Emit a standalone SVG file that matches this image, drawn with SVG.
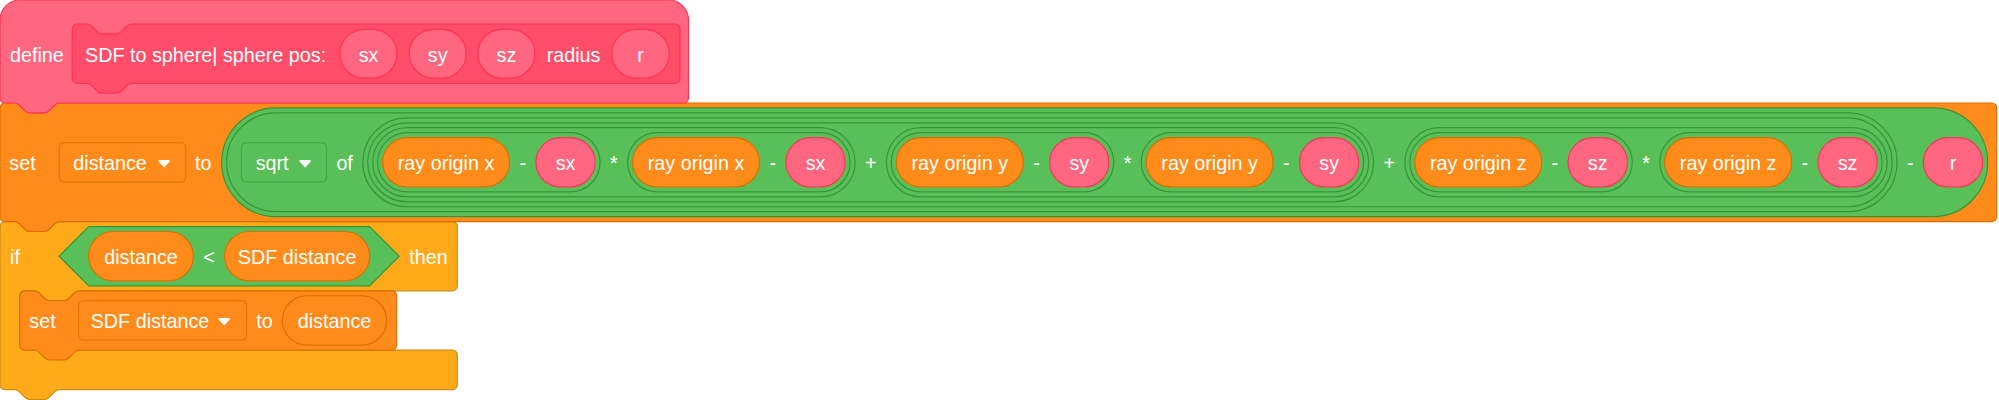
<svg xmlns="http://www.w3.org/2000/svg" width="1999" height="400" viewBox="0 0 1999 400">
<style>
.t{font-family:"Liberation Sans",Arial,Helvetica,sans-serif;font-size:19.76px;fill:#fff}
.m{text-anchor:middle}
.def{fill:#FF6680;stroke:#FF3355;stroke-width:1.2}
.proto{fill:#FF4D6A;stroke:#FF3355;stroke-width:1.2}
.arg{fill:#FF6680;stroke:#FF3355;stroke-width:1.2}
.var{fill:#FF8C1A;stroke:#DB6E00;stroke-width:1.2}
.vdd{fill:#FF8C1A;stroke:#E0780A;stroke-width:1.2}
.ctl{fill:#FFAB19;stroke:#CF8B17;stroke-width:1.2}
.op{fill:#59C059;stroke:#389438;stroke-width:1.2}
.odd{fill:#59C059;stroke:#42A842;stroke-width:1.2}
</style>
<defs>
<path id="arr" d="M0.9,0.9 H10.8 L5.85,6.6 Z" fill="#fff" stroke="#fff" stroke-width="1.6" stroke-linejoin="round"/>
</defs>
<g id="connectors"/>

<g id="if-block">
<path class="ctl" d="M0,226.54 A4.94,4.94 0 0 1 4.94,221.6 H14.82 c 2.47,0 3.705,1.235 4.94,2.47 l 4.94,4.94 c 1.235,1.235 2.47,2.47 4.94,2.47 h 14.82 c 2.47,0 3.705,-1.235 4.94,-2.47 l 4.94,-4.94 c 1.235,-1.235 2.47,-2.47 4.94,-2.47 H452.36 A4.94,4.94 0 0 1 457.3,226.54 V285.86 A4.94,4.94 0 0 1 452.36,290.8 H79.04 c -2.47,0 -3.705,1.235 -4.94,2.47 l -4.94,4.94 c -1.235,1.235 -2.47,2.47 -4.94,2.47 h -14.82 c -2.47,0 -3.705,-1.235 -4.94,-2.47 l -4.94,-4.94 c -1.235,-1.235 -2.47,-2.47 -4.94,-2.47 H24.7 A4.94,4.94 0 0 0 19.76,295.74 V345.16 A4.94,4.94 0 0 0 24.7,350.1 H452.36 A4.94,4.94 0 0 1 457.3,355.04 V384.66 A4.94,4.94 0 0 1 452.36,389.6 H59.28 c -2.47,0 -3.705,1.235 -4.94,2.47 l -4.94,4.94 c -1.235,1.235 -2.47,2.47 -4.94,2.47 h -14.82 c -2.47,0 -3.705,-1.235 -4.94,-2.47 l -4.94,-4.94 c -1.235,-1.235 -2.47,-2.47 -4.94,-2.47 H4.94 A4.94,4.94 0 0 1 0,384.66 Z"/>
<text class="t" x="10" y="264.2">if</text>
<path class="op" d="M59,256.2 L88.64,226.56 H369.56 L399.2,256.2 L369.56,285.84 H88.64 Z"/>
<rect class="var" x="88.64" y="231.5" width="104.7" height="49.4" rx="24.7"/>
<text class="t m" x="141" y="264.2">distance</text>
<text class="t m" x="208.9" y="264.2">&lt;</text>
<rect class="var" x="224.6" y="231.5" width="145" height="49.4" rx="24.7"/>
<text class="t m" x="297.1" y="264.2">SDF distance</text>
<text class="t" x="409.3" y="264.2">then</text>
</g>

<g id="set-sdf-distance">
<path class="var" d="M19.76,295.74 A4.94,4.94 0 0 1 24.7,290.8 H34.58 c 2.47,0 3.705,1.235 4.94,2.47 l 4.94,4.94 c 1.235,1.235 2.47,2.47 4.94,2.47 h 14.82 c 2.47,0 3.705,-1.235 4.94,-2.47 l 4.94,-4.94 c 1.235,-1.235 2.47,-2.47 4.94,-2.47 H391.76 A4.94,4.94 0 0 1 396.7,295.74 V345.16 A4.94,4.94 0 0 1 391.76,350.1 H79.04 c -2.47,0 -3.705,1.235 -4.94,2.47 l -4.94,4.94 c -1.235,1.235 -2.47,2.47 -4.94,2.47 h -14.82 c -2.47,0 -3.705,-1.235 -4.94,-2.47 l -4.94,-4.94 c -1.235,-1.235 -2.47,-2.47 -4.94,-2.47 H24.7 A4.94,4.94 0 0 1 19.76,345.16 Z"/>
<text class="t" x="29.3" y="328.4">set</text>
<rect class="vdd" x="78.7" y="300.7" width="168" height="39.5" rx="4.94"/>
<text class="t" x="90.7" y="328.4">SDF distance</text>
<use href="#arr" x="218.3" y="318"/>
<text class="t" x="256.3" y="328.4">to</text>
<rect class="var" x="282.3" y="295.74" width="104.4" height="49.4" rx="24.7"/>
<text class="t m" x="334.5" y="328.4">distance</text>
</g>

<g id="set-distance">
<path class="var" d="M0,107.94 A4.94,4.94 0 0 1 4.94,103 H14.82 c 2.47,0 3.705,1.235 4.94,2.47 l 4.94,4.94 c 1.235,1.235 2.47,2.47 4.94,2.47 h 14.82 c 2.47,0 3.705,-1.235 4.94,-2.47 l 4.94,-4.94 c 1.235,-1.235 2.47,-2.47 4.94,-2.47 H1991.76 A4.94,4.94 0 0 1 1996.7,107.94 V216.66 A4.94,4.94 0 0 1 1991.76,221.6 H59.28 c -2.47,0 -3.705,1.235 -4.94,2.47 l -4.94,4.94 c -1.235,1.235 -2.47,2.47 -4.94,2.47 h -14.82 c -2.47,0 -3.705,-1.235 -4.94,-2.47 l -4.94,-4.94 c -1.235,-1.235 -2.47,-2.47 -4.94,-2.47 H4.94 A4.94,4.94 0 0 1 0,216.66 Z"/>
<text class="t" x="9.3" y="170.3">set</text>
<rect class="vdd" x="59.3" y="142.55" width="126.4" height="39.5" rx="4.94"/>
<text class="t" x="73.3" y="170.3">distance</text>
<use href="#arr" x="158.3" y="160"/>
<text class="t" x="195" y="170.3">to</text>

<g id="minus-r">
<rect class="op" x="221.7" y="107.96" width="1765.9" height="108.68" rx="54.34"/>
<g id="sqrt">
<rect class="op" x="226.64" y="112.9" width="1670.4" height="98.8" rx="49.4"/>
<rect class="odd" x="241.5" y="142.55" width="85" height="39.5" rx="4.94"/>
<text class="t" x="255.7" y="170.3">sqrt</text>
<use href="#arr" x="299.3" y="160"/>
<text class="t" x="336.4" y="170.3">of</text>
<g id="plus-outer">
<rect class="op" x="362.8" y="117.84" width="1529.3" height="88.92" rx="44.46"/>
<g id="plus-inner">
<rect class="op" x="367.7" y="122.78" width="1005.9" height="79.04" rx="39.52"/>
<g id="times-x">
<rect class="op" x="372.7" y="127.72" width="482.4" height="69.16" rx="34.58"/>
<rect class="op" x="377.6" y="132.66" width="222.5" height="59.28" rx="29.64"/>
<rect class="var" x="382.54" y="137.6" width="127" height="49.4" rx="24.7"/>
<text class="t m" x="446.04" y="170.3">ray origin x</text>
<text class="t m" x="522.71" y="170.3">-</text>
<rect class="arg" x="535.88" y="137.6" width="59.28" height="49.4" rx="24.7"/>
<text class="t m" x="565.52" y="170.3">sx</text>
<text class="t m" x="613.83" y="170.3">*</text>
<rect class="op" x="627.6" y="132.66" width="222.5" height="59.28" rx="29.64"/>
<rect class="var" x="632.54" y="137.6" width="127" height="49.4" rx="24.7"/>
<text class="t m" x="696.04" y="170.3">ray origin x</text>
<text class="t m" x="772.71" y="170.3">-</text>
<rect class="arg" x="785.88" y="137.6" width="59.28" height="49.4" rx="24.7"/>
<text class="t m" x="815.52" y="170.3">sx</text>
</g>
<text class="t m" x="870.75" y="170.3">+</text>
<g id="times-y">
<rect class="op" x="886.4" y="127.72" width="482.3" height="69.16" rx="34.58"/>
<rect class="op" x="891.3" y="132.66" width="222.5" height="59.28" rx="29.64"/>
<rect class="var" x="896.28" y="137.6" width="127" height="49.4" rx="24.7"/>
<text class="t m" x="959.78" y="170.3">ray origin y</text>
<text class="t m" x="1036.45" y="170.3">-</text>
<rect class="arg" x="1049.62" y="137.6" width="59.28" height="49.4" rx="24.7"/>
<text class="t m" x="1079.26" y="170.3">sy</text>
<text class="t m" x="1127.53" y="170.3">*</text>
<rect class="op" x="1141.2" y="132.66" width="222.5" height="59.28" rx="29.64"/>
<rect class="var" x="1146.16" y="137.6" width="127" height="49.4" rx="24.7"/>
<text class="t m" x="1209.66" y="170.3">ray origin y</text>
<text class="t m" x="1286.31" y="170.3">-</text>
<rect class="arg" x="1299.5" y="137.6" width="59.28" height="49.4" rx="24.7"/>
<text class="t m" x="1329.14" y="170.3">sy</text>
</g>
</g>
<text class="t m" x="1389.25" y="170.3">+</text>
<g id="times-z">
<rect class="op" x="1404.9" y="127.72" width="482.3" height="69.16" rx="34.58"/>
<rect class="op" x="1409.8" y="132.66" width="222.5" height="59.28" rx="29.64"/>
<rect class="var" x="1414.74" y="137.6" width="127" height="49.4" rx="24.7"/>
<text class="t m" x="1478.24" y="170.3">ray origin z</text>
<text class="t m" x="1554.91" y="170.3">-</text>
<rect class="arg" x="1568.08" y="137.6" width="59.28" height="49.4" rx="24.7"/>
<text class="t m" x="1597.72" y="170.3">sz</text>
<text class="t m" x="1646.03" y="170.3">*</text>
<rect class="op" x="1659.7" y="132.66" width="222.5" height="59.28" rx="29.64"/>
<rect class="var" x="1664.64" y="137.6" width="127" height="49.4" rx="24.7"/>
<text class="t m" x="1728.14" y="170.3">ray origin z</text>
<text class="t m" x="1804.81" y="170.3">-</text>
<rect class="arg" x="1817.98" y="137.6" width="59.28" height="49.4" rx="24.7"/>
<text class="t m" x="1847.62" y="170.3">sz</text>
</g>
</g>
</g>
<text class="t m" x="1910.21" y="170.3">-</text>
<rect class="arg" x="1923.4" y="137.6" width="59.28" height="49.4" rx="24.7"/>
<text class="t m" x="1953.04" y="170.3">r</text>
</g>
</g>

<g id="define-block">
<path class="def" d="M0,20 A20,20 0 0 1 20,0 H668.5 A20,20 0 0 1 688.5,20 V98.06 A4.94,4.94 0 0 1 683.56,103 H59.28 c -2.47,0 -3.705,1.235 -4.94,2.47 l -4.94,4.94 c -1.235,1.235 -2.47,2.47 -4.94,2.47 h -14.82 c -2.47,0 -3.705,-1.235 -4.94,-2.47 l -4.94,-4.94 c -1.235,-1.235 -2.47,-2.47 -4.94,-2.47 H4.94 A4.94,4.94 0 0 1 0,98.06 Z"/>
<text class="t" x="10" y="62">define</text>
<g id="prototype">
<path class="proto" d="M72.3,28.94 A4.94,4.94 0 0 1 77.24,24 H87.12 c 2.47,0 3.705,1.235 4.94,2.47 l 4.94,4.94 c 1.235,1.235 2.47,2.47 4.94,2.47 h 14.82 c 2.47,0 3.705,-1.235 4.94,-2.47 l 4.94,-4.94 c 1.235,-1.235 2.47,-2.47 4.94,-2.47 H675.06 A4.94,4.94 0 0 1 680,28.94 V78.36 A4.94,4.94 0 0 1 675.06,83.3 H131.58 c -2.47,0 -3.705,1.235 -4.94,2.47 l -4.94,4.94 c -1.235,1.235 -2.47,2.47 -4.94,2.47 h -14.82 c -2.47,0 -3.705,-1.235 -4.94,-2.47 l -4.94,-4.94 c -1.235,-1.235 -2.47,-2.47 -4.94,-2.47 H77.24 A4.94,4.94 0 0 1 72.3,78.36 Z"/>
<text class="t" x="85" y="62">SDF to sphere| sphere pos:</text>
<rect class="arg" x="340" y="29.3" width="57" height="48.8" rx="24.4"/>
<text class="t m" x="368.5" y="62">sx</text>
<rect class="arg" x="409.2" y="29.3" width="57" height="48.8" rx="24.4"/>
<text class="t m" x="437.7" y="62">sy</text>
<rect class="arg" x="477.9" y="29.3" width="57" height="48.8" rx="24.4"/>
<text class="t m" x="506.4" y="62">sz</text>
<text class="t" x="546.7" y="62">radius</text>
<rect class="arg" x="611.8" y="29.3" width="57.5" height="48.8" rx="24.4"/>
<text class="t m" x="640.5" y="62">r</text>
</g>
</g>
</svg>
